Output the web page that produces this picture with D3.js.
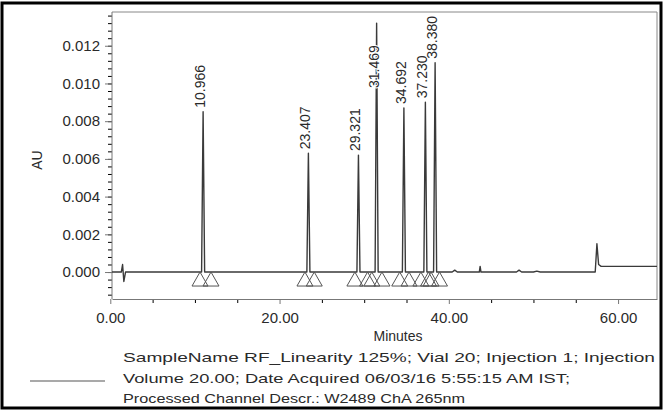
<!DOCTYPE html>
<html>
<head>
<meta charset="utf-8">
<script src="https://cdn.jsdelivr.net/npm/d3@7"></script>
<style>
  body { margin: 0; background: #fff; }
  svg text { font-family: "Liberation Sans", Arial, sans-serif; fill: #2a2a2a; }
</style>
</head>
<body>
<svg id="chrom" width="664" height="410"></svg>
<script>
// peaks (retention time in minutes, apex height in AU)
let peakTimes = [10.966, 23.407, 29.321, 31.469, 34.692, 37.230, 38.380];
let peakHeights = [0.0085, 0.0063, 0.0062, 0.0132, 0.0087, 0.0090, 0.0111];
let peakStarts = [10.6, 23.0, 28.9, 30.9, 34.2, 36.7, 37.9];
let peakEnds = [11.9, 24.1, 30.4, 32.1, 35.3, 37.6, 38.9];

// baseline trace outside the peaks (minutes, AU)
let baseTimes = [0.2, 1.3, 1.45, 1.6, 1.8, 40.4, 40.7, 41.0, 43.6, 43.7, 43.8, 48.0, 48.3, 48.6, 50.0, 50.4, 50.8, 57.3, 57.5, 57.7, 58.0, 64.6];
let baseValues = [0, 0, 0.0004, -0.0005, 0, 0, 0.0001, 0, 0, 0.0003, 0, 0, 0.0001, 0, 0, 0.00005, 0, 0, 0.0015, 0.0004, 0.0003, 0.0003];

let xTicks = [0, 20, 40, 60];
let yTicks = [0, 0.002, 0.004, 0.006, 0.008, 0.010, 0.012];

let legendLines = [
    "SampleName RF_Linearity 125%; Vial 20; Injection 1; Injection",
    "Volume 20.00; Date Acquired 06/03/16 5:55:15 AM IST;",
    "Processed Channel Descr.: W2489 ChA 265nm"
];

function drawChromatogram() {

    let plot = {left: 112, right: 657, top: 12, bottom: 299};
    let svg = d3.select("#chrom");

    //outer black frame
    svg.append("rect")
        .attr("x", 2).attr("y", 3)
        .attr("width", 659).attr("height", 405)
        .attr("fill", "none")
        .attr("stroke", "#000")
        .attr("stroke-width", 3);

    let x = d3.scaleLinear().domain([0.2, 64.6]).range([plot.left, plot.right]);
    let y = d3.scaleLinear().domain([-0.00143, 0.01379]).range([plot.bottom, plot.top]);

    //top and right border of the plot
    svg.append("path")
        .attr("d", "M" + plot.left + "," + plot.top + "H" + plot.right + "V" + plot.bottom)
        .attr("fill", "none")
        .attr("stroke", "#888")
        .attr("stroke-width", 1);

    //minor ticks
    let minorX = d3.range(5, 61, 5).filter(d => xTicks.indexOf(d) < 0);
    svg.append("g")
        .attr("transform", "translate(0," + plot.bottom + ")")
        .call(d3.axisBottom(x).tickValues(minorX).tickSize(4).tickFormat(""))
        .call(g => g.select(".domain").remove());

    let minorY = d3.range(-12, 137, 4).map(d => d / 10000);
    svg.append("g")
        .attr("transform", "translate(" + plot.left + ",0)")
        .call(d3.axisLeft(y).tickValues(minorY).tickSize(4).tickFormat(""))
        .call(g => g.select(".domain").remove());

    //main axes
    let xAxis = svg.append("g")
        .attr("transform", "translate(0," + plot.bottom + ")")
        .call(d3.axisBottom(x).tickValues(xTicks).tickSize(5).tickSizeOuter(0).tickPadding(8)
            .tickFormat(d3.format(".2f")));

    let yAxis = svg.append("g")
        .attr("transform", "translate(" + plot.left + ",0)")
        .call(d3.axisLeft(y).tickValues(yTicks).tickSize(7).tickSizeOuter(0).tickPadding(5)
            .tickFormat(d3.format(".3f")));

    [xAxis, yAxis].forEach(function(g) {
        g.selectAll("line").attr("stroke", "#777");
        g.select(".domain").attr("stroke", "#777");
        g.selectAll("text")
            .style("font-size", "15px")
            .style("font-family", "'Liberation Sans', Arial, sans-serif")
            .attr("fill", "#2a2a2a");
    });
    yAxis.select(".domain").attr("d", "M0," + plot.top + "V" + plot.bottom);

    //axis titles
    svg.append("text")
        .attr("x", 398).attr("y", 341)
        .attr("text-anchor", "middle")
        .style("font-size", "14px")
        .text("Minutes");

    svg.append("text")
        .attr("transform", "translate(42,160) rotate(-90)")
        .attr("text-anchor", "middle")
        .style("font-size", "14px")
        .text("AU");

    //trace: baseline points plus three points for each peak
    let trace = baseTimes.map((t, i) => [t, baseValues[i]]);
    peakTimes.forEach(function(t, i) {
        trace.push([t - 0.18, 0], [t, peakHeights[i]], [t + 0.18, 0]);
    });
    trace.sort((a, b) => a[0] - b[0]);

    let line = d3.line()
        .x(d => x(d[0]))
        .y(d => y(d[1]));

    svg.append("path")
        .datum(trace)
        .attr("d", line)
        .attr("fill", "none")
        .attr("stroke", "#3a3a3a")
        .attr("stroke-width", 1.4)
        .attr("stroke-linejoin", "round");

    //integration markers
    let markers = peakStarts.concat(peakEnds);
    svg.append("g")
        .selectAll("path")
        .data(markers)
        .enter()
        .append("path")
        .attr("d", function(d) {
            let cx = x(d), y0 = y(0);
            return "M" + (cx - 8) + "," + (y0 + 14) + "L" + cx + "," + y0 + "L" + (cx + 8) + "," + (y0 + 14) + "Z";
        })
        .attr("fill", "none")
        .attr("stroke", "#555")
        .attr("stroke-width", 1);

    //peak labels, rotated, above each apex
    svg.append("g")
        .selectAll("text")
        .data(peakTimes)
        .enter()
        .append("text")
        .attr("transform", function(d, i) {
            let apex = y(peakHeights[i]);
            let bottom = apex - 4;
            if (apex < plot.top + 40) {
                bottom = plot.top + 76;
            }
            return "translate(" + (x(d) - 3) + "," + bottom + ") rotate(-90)";
        })
        .attr("dy", "0.35em")
        .style("font-size", "14px")
        .style("paint-order", "stroke")
        .style("stroke", "#fff")
        .style("stroke-width", "2px")
        .text(d => d3.format(".3f")(d));

    //legend
    svg.append("line")
        .attr("x1", 30).attr("x2", 105)
        .attr("y1", 381).attr("y2", 381)
        .attr("stroke", "#555")
        .attr("stroke-width", 1.2);

    let legendWidths = [532, 447, 342];
    svg.append("g")
        .selectAll("text")
        .data(legendLines)
        .enter()
        .append("text")
        .attr("x", 123)
        .attr("y", (d, i) => 362 + i * 20.5)
        .attr("textLength", (d, i) => legendWidths[i])
        .attr("lengthAdjust", "spacingAndGlyphs")
        .style("font-size", "13.5px")
        .text(d => d);
}

drawChromatogram();
</script>
</body>
</html>
